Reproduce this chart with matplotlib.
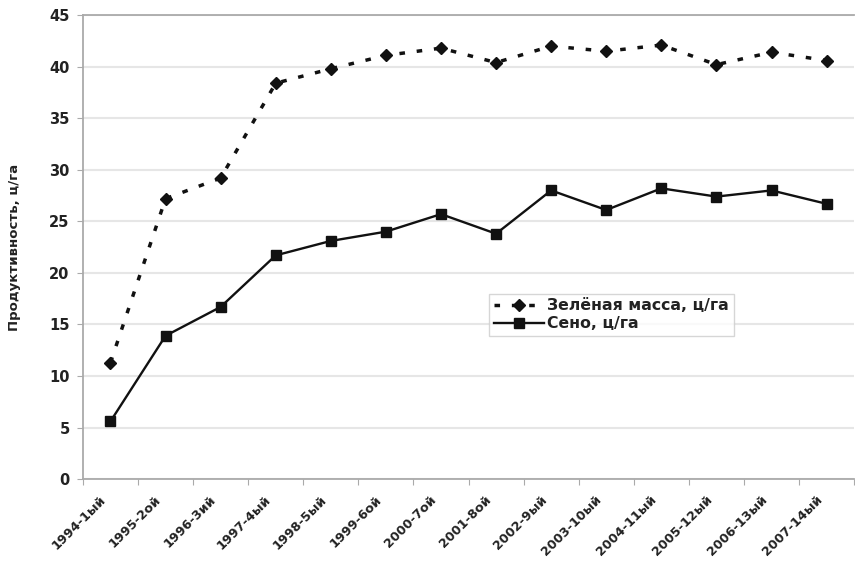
import matplotlib
matplotlib.use("Agg")
import matplotlib.pyplot as plt
import matplotlib.transforms as mtransforms
import numpy as np

plt.rcParams['font.family'] = ['DejaVu Sans']

categories = ["1994-1ый", "1995-2ой", "1996-3ий", "1997-4ый", "1998-5ый",
              "1999-6ой", "2000-7ой", "2001-8ой", "2002-9ый", "2003-10ый",
              "2004-11ый", "2005-12ый", "2006-13ый", "2007-14ый"]
green_mass = [11.3, 27.2, 29.2, 38.4, 39.8, 41.1, 41.8, 40.4, 42.0, 41.5,
              42.1, 40.2, 41.4, 40.6]
hay = [5.6, 13.9, 16.7, 21.7, 23.1, 24.0, 25.7, 23.8, 28.0, 26.1,
       28.2, 27.4, 28.0, 26.7]
y_ticks = [0, 5, 10, 15, 20, 25, 30, 35, 40, 45]

fig = plt.figure(figsize=(8.55, 5.61), dpi=100)
ax = fig.add_axes([0.097, 0.146, 0.902, 0.827])

x = np.arange(len(categories)) + 0.5
ax.plot(x, green_mass, color='#111111', linestyle=(0, (1.6, 3.4)), linewidth=2.5,
        marker='D', markersize=6.5, label='Зелёная масса, ц/га')
ax.plot(x, hay, color='#111111', linestyle='-', linewidth=1.7,
        marker='s', markersize=7, label='Сено, ц/га')

ax.set_xlim(0, len(categories))
ax.set_ylim(0, 45)
ax.set_yticks(y_ticks)
ax.set_yticklabels([str(v) for v in y_ticks], fontsize=10.5, fontweight='bold', color='#222222')

# category boundaries carry the tick marks; names sit under each category
ax.set_xticks(np.arange(len(categories) + 1))
ax.set_xticklabels([])
ax.tick_params(axis='x', length=4, color='#aaaaaa')
ax.tick_params(axis='y', length=4.5, color='#aaaaaa', pad=5)

label_trans = ax.get_xaxis_transform() + mtransforms.ScaledTranslation(-0.11, -0.14, fig.dpi_scale_trans)
for xi, name in zip(x, categories):
    ax.text(xi, 0, name, transform=label_trans, rotation=45, ha='right', va='top',
            rotation_mode='anchor', fontsize=9.2, fontweight='bold', color='#222222',
            clip_on=False)

ax.grid(axis='y', color='#e6e6e6', linewidth=1.5)
ax.set_axisbelow(True)
for side in ['top', 'left', 'bottom']:
    ax.spines[side].set_color('#aaaaaa')
    ax.spines[side].set_linewidth(1.3)
ax.spines['right'].set_visible(False)

ax.set_ylabel('Продуктивность, ц/га', fontsize=9.5, fontweight='bold', color='#222222')
ax.yaxis.set_label_coords(-0.080, 0.5)

leg = ax.legend(loc='upper left', bbox_to_anchor=(0.527, 0.40), frameon=True, fancybox=False,
                edgecolor='#cccccc', fontsize=11.3, handlelength=3.2, handletextpad=0.2,
                borderpad=0.3, labelspacing=0.2, borderaxespad=0)
for t in leg.get_texts():
    t.set_fontweight('bold')
    t.set_color('#222222')
leg.get_frame().set_linewidth(1.0)

fig.savefig('out.png', dpi=100)
